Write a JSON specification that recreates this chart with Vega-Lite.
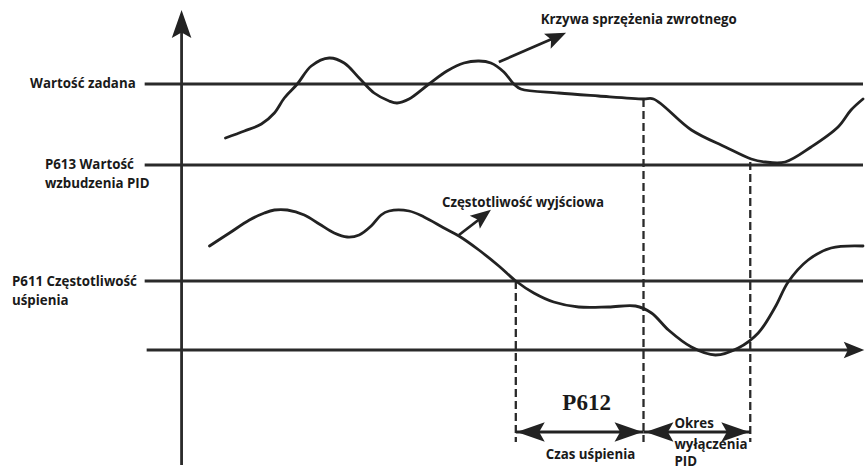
{
  "$schema": "https://vega.github.io/schema/vega-lite/v6.json",
  "width": 865,
  "height": 470,
  "autosize": {"type": "fit", "contains": "padding"},
  "padding": 0,
  "background": "white",
  "config": {"view": {"stroke": null}},
  "datasets": {
    "hlines": [
      {"x": 145, "x2": 865, "y": 84},
      {"x": 145, "x2": 865, "y": 165},
      {"x": 145, "x2": 865, "y": 281},
      {"x": 147, "x2": 850, "y": 350}
    ],
    "vlines": [{"x": 182, "y": 30, "y2": 465}],
    "dashes": [
      {"x": 517, "y": 281, "y2": 442},
      {"x": 645, "y": 99, "y2": 442},
      {"x": 752, "y": 162, "y2": 442}
    ],
    "shafts": [
      {"x": 500, "y": 62, "x2": 560, "y2": 36},
      {"x": 460, "y": 235, "x2": 486, "y2": 215},
      {"x": 517, "y": 432, "x2": 645, "y2": 432},
      {"x": 645, "y": 432, "x2": 752, "y2": 432}
    ],
    "bigheads": [
      {"x": 182, "y": 24, "dir": 0},
      {"x": 532, "y": 432, "dir": 270},
      {"x": 630, "y": 432, "dir": 90},
      {"x": 661, "y": 432, "dir": 270},
      {"x": 737, "y": 432, "dir": 90}
    ],
    "smallheads": [
      {"x": 856, "y": 350, "dir": 90},
      {"x": 558, "y": 37, "dir": 66},
      {"x": 484, "y": 216, "dir": 52}
    ],
    "curves": [
      {"s": "fb", "i": 1, "x": 226, "y": 138},
      {"s": "fb", "i": 2, "x": 245, "y": 131},
      {"s": "fb", "i": 3, "x": 262, "y": 124},
      {"s": "fb", "i": 4, "x": 275, "y": 113},
      {"s": "fb", "i": 5, "x": 285, "y": 98},
      {"s": "fb", "i": 6, "x": 298, "y": 84},
      {"s": "fb", "i": 7, "x": 312, "y": 66},
      {"s": "fb", "i": 8, "x": 330, "y": 58},
      {"s": "fb", "i": 9, "x": 345, "y": 63},
      {"s": "fb", "i": 10, "x": 360, "y": 78},
      {"s": "fb", "i": 11, "x": 375, "y": 93},
      {"s": "fb", "i": 12, "x": 390, "y": 101},
      {"s": "fb", "i": 13, "x": 398, "y": 103},
      {"s": "fb", "i": 14, "x": 410, "y": 99},
      {"s": "fb", "i": 15, "x": 430, "y": 84},
      {"s": "fb", "i": 16, "x": 448, "y": 71},
      {"s": "fb", "i": 17, "x": 465, "y": 63},
      {"s": "fb", "i": 18, "x": 480, "y": 61},
      {"s": "fb", "i": 19, "x": 492, "y": 63},
      {"s": "fb", "i": 20, "x": 505, "y": 72},
      {"s": "fb", "i": 21, "x": 515, "y": 84},
      {"s": "fb", "i": 22, "x": 522, "y": 89},
      {"s": "fb", "i": 23, "x": 560, "y": 93},
      {"s": "fb", "i": 24, "x": 600, "y": 96},
      {"s": "fb", "i": 25, "x": 645, "y": 99},
      {"s": "fb", "i": 26, "x": 655, "y": 99},
      {"s": "fb", "i": 27, "x": 693, "y": 130},
      {"s": "fb", "i": 28, "x": 727, "y": 147},
      {"s": "fb", "i": 29, "x": 753, "y": 159},
      {"s": "fb", "i": 30, "x": 767, "y": 162},
      {"s": "fb", "i": 31, "x": 787, "y": 162},
      {"s": "fb", "i": 32, "x": 813, "y": 147},
      {"s": "fb", "i": 33, "x": 840, "y": 127},
      {"s": "fb", "i": 34, "x": 853, "y": 110},
      {"s": "fb", "i": 35, "x": 865, "y": 99},
      {"s": "out", "i": 1, "x": 210, "y": 246},
      {"s": "out", "i": 2, "x": 230, "y": 233},
      {"s": "out", "i": 3, "x": 250, "y": 220},
      {"s": "out", "i": 4, "x": 265, "y": 213},
      {"s": "out", "i": 5, "x": 275, "y": 210},
      {"s": "out", "i": 6, "x": 288, "y": 210},
      {"s": "out", "i": 7, "x": 305, "y": 215},
      {"s": "out", "i": 8, "x": 320, "y": 224},
      {"s": "out", "i": 9, "x": 335, "y": 233},
      {"s": "out", "i": 10, "x": 348, "y": 237},
      {"s": "out", "i": 11, "x": 360, "y": 235},
      {"s": "out", "i": 12, "x": 372, "y": 226},
      {"s": "out", "i": 13, "x": 382, "y": 215},
      {"s": "out", "i": 14, "x": 390, "y": 211},
      {"s": "out", "i": 15, "x": 410, "y": 211},
      {"s": "out", "i": 16, "x": 425, "y": 217},
      {"s": "out", "i": 17, "x": 445, "y": 228},
      {"s": "out", "i": 18, "x": 460, "y": 236},
      {"s": "out", "i": 19, "x": 480, "y": 250},
      {"s": "out", "i": 20, "x": 500, "y": 266},
      {"s": "out", "i": 21, "x": 517, "y": 281},
      {"s": "out", "i": 22, "x": 535, "y": 293},
      {"s": "out", "i": 23, "x": 555, "y": 302},
      {"s": "out", "i": 24, "x": 580, "y": 307},
      {"s": "out", "i": 25, "x": 610, "y": 307},
      {"s": "out", "i": 26, "x": 637, "y": 306},
      {"s": "out", "i": 27, "x": 653, "y": 313},
      {"s": "out", "i": 28, "x": 670, "y": 330},
      {"s": "out", "i": 29, "x": 693, "y": 347},
      {"s": "out", "i": 30, "x": 717, "y": 355},
      {"s": "out", "i": 31, "x": 740, "y": 348},
      {"s": "out", "i": 32, "x": 760, "y": 333},
      {"s": "out", "i": 33, "x": 777, "y": 307},
      {"s": "out", "i": 34, "x": 790, "y": 282},
      {"s": "out", "i": 35, "x": 810, "y": 260},
      {"s": "out", "i": 36, "x": 833, "y": 248},
      {"s": "out", "i": 37, "x": 865, "y": 246}
    ],
    "rlabels": [{"t": "Wartość zadana", "x": 136, "y": 84}],
    "llabels": [
      {"t": "P613 Wartość", "x": 45, "y": 165},
      {"t": "wzbudzenia PID", "x": 45, "y": 184},
      {"t": "P611 Częstotliwość", "x": 12, "y": 282},
      {"t": "uśpienia", "x": 12, "y": 301},
      {"t": "Krzywa sprzężenia zwrotnego", "x": 542, "y": 20},
      {"t": "Częstotliwość wyjściowa", "x": 443, "y": 203},
      {"t": "Czas uśpienia", "x": 547, "y": 455},
      {"t": "Okres", "x": 676, "y": 424},
      {"t": "wyłączenia", "x": 676, "y": 445},
      {"t": "PID", "x": 676, "y": 462}
    ],
    "serif": [{"t": "P612", "x": 588, "y": 403}]
  },
  "layer": [
    {
      "data": {"name": "hlines"},
      "mark": {"type": "rule", "color": "#2a2a2a", "strokeWidth": 2.8},
      "encoding": {
        "x": {"field": "x", "type": "quantitative", "scale": {"domain": [0, 865], "nice": false, "zero": false}, "axis": null},
        "x2": {"field": "x2"},
        "y": {"field": "y", "type": "quantitative", "scale": {"domain": [0, 470], "nice": false, "zero": false, "reverse": true}, "axis": null}
      }
    },
    {
      "data": {"name": "vlines"},
      "mark": {"type": "rule", "color": "#2a2a2a", "strokeWidth": 2.8},
      "encoding": {
        "x": {"field": "x", "type": "quantitative"},
        "y": {"field": "y", "type": "quantitative"},
        "y2": {"field": "y2"}
      }
    },
    {
      "data": {"name": "dashes"},
      "mark": {"type": "rule", "color": "#2a2a2a", "strokeWidth": 2.3, "strokeDash": [8, 4]},
      "encoding": {
        "x": {"field": "x", "type": "quantitative"},
        "y": {"field": "y", "type": "quantitative"},
        "y2": {"field": "y2"}
      }
    },
    {
      "data": {"name": "shafts"},
      "mark": {"type": "rule", "color": "#222", "strokeWidth": 2.8},
      "encoding": {
        "x": {"field": "x", "type": "quantitative"},
        "x2": {"field": "x2"},
        "y": {"field": "y", "type": "quantitative"},
        "y2": {"field": "y2"}
      }
    },
    {
      "data": {"name": "curves"},
      "mark": {"type": "line", "color": "#222", "strokeWidth": 2.8, "interpolate": "catmull-rom", "strokeJoin": "round", "strokeCap": "round"},
      "encoding": {
        "x": {"field": "x", "type": "quantitative"},
        "y": {"field": "y", "type": "quantitative"},
        "detail": {"field": "s"},
        "order": {"field": "i", "type": "quantitative"}
      }
    },
    {
      "data": {"name": "bigheads"},
      "mark": {"type": "point", "shape": "M0,-1 L0.7,1 L0,0.6 L-0.7,1 Z", "filled": true, "color": "#222", "opacity": 1, "size": 784, "strokeWidth": 0},
      "encoding": {
        "x": {"field": "x", "type": "quantitative"},
        "y": {"field": "y", "type": "quantitative"},
        "angle": {"field": "dir", "type": "quantitative", "scale": {"domain": [0, 360], "range": [0, 360]}}
      }
    },
    {
      "data": {"name": "smallheads"},
      "mark": {"type": "point", "shape": "M0,-1 L0.8,1 L0,0.6 L-0.8,1 Z", "filled": true, "color": "#222", "opacity": 1, "size": 420, "strokeWidth": 0},
      "encoding": {
        "x": {"field": "x", "type": "quantitative"},
        "y": {"field": "y", "type": "quantitative"},
        "angle": {"field": "dir", "type": "quantitative", "scale": {"domain": [0, 360], "range": [0, 360]}}
      }
    },
    {
      "data": {"name": "rlabels"},
      "mark": {"type": "text", "align": "right", "baseline": "middle", "font": "Open Sans", "fontWeight": "bold", "fontSize": 13.3, "color": "#1a1a1a"},
      "encoding": {
        "x": {"field": "x", "type": "quantitative"},
        "y": {"field": "y", "type": "quantitative"},
        "text": {"field": "t"}
      }
    },
    {
      "data": {"name": "llabels"},
      "mark": {"type": "text", "align": "left", "baseline": "middle", "font": "Open Sans", "fontWeight": "bold", "fontSize": 13.3, "color": "#1a1a1a"},
      "encoding": {
        "x": {"field": "x", "type": "quantitative"},
        "y": {"field": "y", "type": "quantitative"},
        "text": {"field": "t"}
      }
    },
    {
      "data": {"name": "serif"},
      "mark": {"type": "text", "align": "center", "baseline": "middle", "font": "Liberation Serif", "fontWeight": "bold", "fontSize": 23, "color": "#1a1a1a"},
      "encoding": {
        "x": {"field": "x", "type": "quantitative"},
        "y": {"field": "y", "type": "quantitative"},
        "text": {"field": "t"}
      }
    }
  ]
}
